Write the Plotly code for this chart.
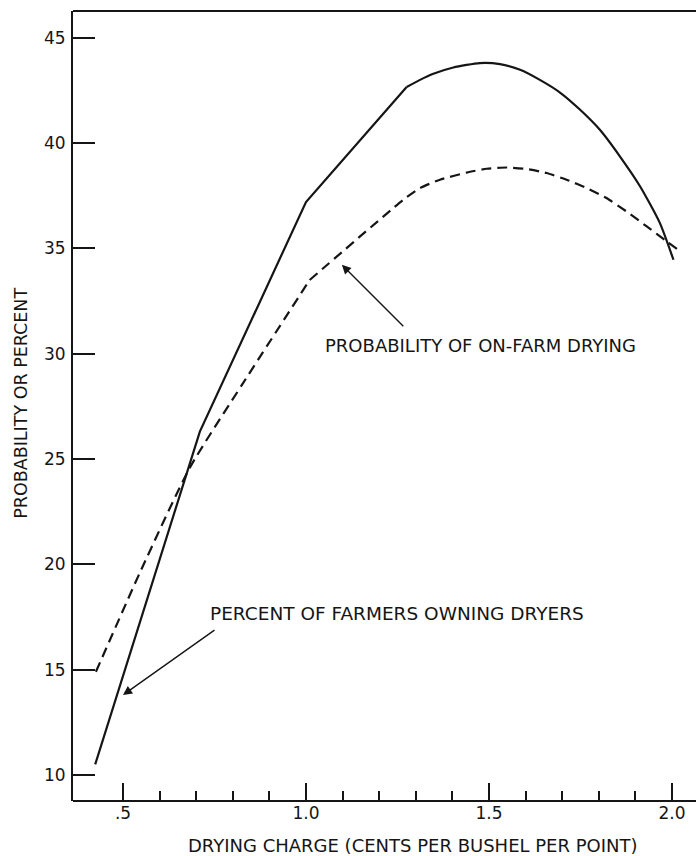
import plotly.graph_objects as go

# Percent of farmers owning dryers (solid)
own_x = [0.424, 0.71, 1.0, 1.275, 1.3115, 1.348, 1.4025, 1.475, 1.530, 1.585, 1.639, 1.694,
         1.749, 1.803, 1.858, 1.913, 1.967, 2.004]
own_y = [10.5, 26.3, 37.2, 42.66, 43.0, 43.29, 43.59, 43.80, 43.75, 43.48, 43.0, 42.40,
         41.58, 40.63, 39.36, 37.94, 36.2, 34.46]

# Probability of on-farm drying (dashed)
prob_x = [0.426, 0.546, 0.683, 0.828, 1.01, 1.266, 1.311, 1.366, 1.439, 1.494, 1.548, 1.603,
          1.657, 1.712, 1.767, 1.821, 1.876, 1.931, 1.986, 2.017]
prob_y = [14.9, 19.6, 24.6, 28.6, 33.5, 37.31, 37.86, 38.26, 38.60, 38.78, 38.84, 38.77,
          38.58, 38.26, 37.86, 37.39, 36.75, 36.04, 35.33, 34.93]

x_major = [0.5, 1.0, 1.5, 2.0]
x_major_text = [".5", "1.0", "1.5", "2.0"]
x_minor = [0.6, 0.7, 0.8, 0.9, 1.1, 1.2, 1.3, 1.4, 1.6, 1.7, 1.8, 1.9]
y_ticks = [10, 15, 20, 25, 30, 35, 40, 45]

INK = "#151515"
FONT = "DejaVu Sans"
DASH = "10px,6px"

fig = go.Figure()
fig.add_trace(go.Scatter(x=own_x[:4], y=own_y[:4], mode="lines",
                         line=dict(color=INK, width=2.2), showlegend=False))
fig.add_trace(go.Scatter(x=own_x[3:], y=own_y[3:], mode="lines",
                         line=dict(color=INK, width=2.2, shape="spline", smoothing=0.6),
                         showlegend=False))
fig.add_trace(go.Scatter(x=prob_x[:5], y=prob_y[:5], mode="lines",
                         line=dict(color=INK, width=2.2, dash=DASH, shape="spline", smoothing=0.6),
                         showlegend=False))
fig.add_trace(go.Scatter(x=prob_x[4:], y=prob_y[4:], mode="lines",
                         line=dict(color=INK, width=2.2, dash=DASH, shape="spline", smoothing=0.5),
                         showlegend=False))

# Plot area spans x pixels 73..696; range extended so 2.0 stays at the same pixel
fig.update_layout(
    width=696, height=856,
    margin=dict(l=73, r=0, t=11, b=55),
    plot_bgcolor="white", paper_bgcolor="white",
    font=dict(family=FONT, color=INK, size=18),
    xaxis=dict(range=[0.3634, 2.0656], showgrid=False, zeroline=False,
               showline=False,
               tickmode="array", tickvals=x_major, ticktext=x_major_text,
               ticks="inside", ticklen=18, tickwidth=2, tickcolor=INK,
               tickfont=dict(size=17, family=FONT, color=INK),
               minor=dict(tickmode="array", tickvals=x_minor, ticks="inside",
                          ticklen=10, tickwidth=2, tickcolor=INK)),
    yaxis=dict(range=[8.765, 46.27], showgrid=False, zeroline=False,
               showline=True, linecolor=INK, linewidth=2, mirror=False,
               tickmode="array", tickvals=y_ticks,
               ticks="inside", ticklen=22, tickwidth=2, tickcolor=INK,
               ticklabelstandoff=2,
               tickfont=dict(size=17, family=FONT, color=INK)),
    shapes=[
        dict(type="line", xref="paper", yref="paper", x0=0, x1=1.02, y0=0, y1=0,
             line=dict(color=INK, width=2)),
        dict(type="line", xref="paper", yref="paper", x0=0, x1=1.02, y0=1, y1=1,
             line=dict(color=INK, width=2)),
    ],
)

annotations = [
    dict(x=1.098, y=34.22, ax=1.270, ay=31.23, xref="x", yref="y", axref="x", ayref="y",
         showarrow=True, arrowhead=2, arrowsize=1.3, arrowwidth=1.4, arrowcolor=INK, text=""),
    dict(x=1.046, y=30.37, xref="x", yref="y", text="PROBABILITY OF ON-FARM DRYING",
         showarrow=False, xanchor="left", yanchor="middle", font=dict(size=18, family=FONT, color=INK)),
    dict(x=0.5, y=13.8, ax=0.754, ay=16.93, xref="x", yref="y", axref="x", ayref="y",
         showarrow=True, arrowhead=2, arrowsize=1.3, arrowwidth=1.4, arrowcolor=INK, text=""),
    dict(x=0.732, y=17.69, xref="x", yref="y", text="PERCENT OF FARMERS OWNING DRYERS",
         showarrow=False, xanchor="left", yanchor="middle", font=dict(size=18.5, family=FONT, color=INK)),
    dict(x=0.5457, y=-0.0557, xref="paper", yref="paper", text="DRYING CHARGE (CENTS PER BUSHEL PER POINT)",
         showarrow=False, xanchor="center", yanchor="middle", font=dict(size=18, family=FONT, color=INK)),
    dict(x=-0.0835, y=0.504, xref="paper", yref="paper", text="PROBABILITY OR PERCENT",
         showarrow=False, textangle=-90, xanchor="center", yanchor="middle",
         font=dict(size=17.5, family=FONT, color=INK)),
]
fig.update_layout(annotations=annotations)

fig.write_html(
    "out.html",
    config={"displayModeBar": False, "staticPlot": True},
    post_script=("document.body.style.margin='0';"
                 "document.body.style.overflow='hidden';"
                 "document.documentElement.style.overflow='hidden';"),
)
